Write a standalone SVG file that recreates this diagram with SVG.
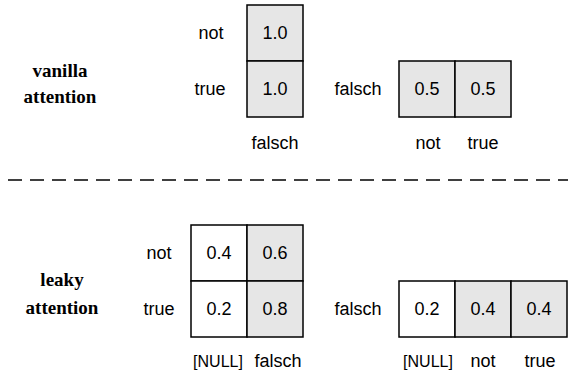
<svg xmlns="http://www.w3.org/2000/svg" width="568" height="376" viewBox="0 0 568 376">
<style>
.c{stroke:#000;stroke-width:1.5}
.g{fill:#e6e6e6}
.w{fill:#fff}
text{font-family:"Liberation Sans",Arial,sans-serif;font-size:18px;fill:#000;text-anchor:middle}
.n{font-size:16px}
.h{font-family:"Liberation Serif","Times New Roman",serif;font-weight:bold;font-size:19px}
</style>
<rect width="568" height="376" fill="#fff"/>
<g id="vanilla-label">
<text class="h" x="60" y="77">vanilla</text>
<text class="h" x="60" y="103">attention</text>
</g>
<g id="vanilla-left">
<rect class="c g" x="247" y="5" width="56" height="56"/>
<rect class="c g" x="247" y="61" width="56" height="56"/>
<text x="275" y="39">1.0</text>
<text x="275" y="95">1.0</text>
<text x="211" y="39">not</text>
<text x="210" y="95">true</text>
<text x="275" y="149">falsch</text>
</g>
<g id="vanilla-right">
<rect class="c g" x="399" y="61" width="56" height="56"/>
<rect class="c g" x="455" y="61" width="56" height="56"/>
<text x="427" y="95">0.5</text>
<text x="483" y="95">0.5</text>
<text x="358" y="95">falsch</text>
<text x="428" y="149">not</text>
<text x="483" y="149">true</text>
</g>
<g id="connectors">
<line x1="8" y1="180" x2="568" y2="180" stroke="#000" stroke-width="1.5" stroke-dasharray="14 8"/>
</g>
<g id="leaky-label">
<text class="h" x="62" y="286">leaky</text>
<text class="h" x="62" y="314">attention</text>
</g>
<g id="leaky-left">
<rect class="c w" x="191" y="225" width="56" height="56"/>
<rect class="c g" x="247" y="225" width="56" height="56"/>
<rect class="c w" x="191" y="281" width="56" height="56"/>
<rect class="c g" x="247" y="281" width="56" height="56"/>
<text x="219" y="259">0.4</text>
<text x="275" y="259">0.6</text>
<text x="219" y="315">0.2</text>
<text x="275" y="315">0.8</text>
<text x="159" y="259">not</text>
<text x="159" y="315">true</text>
<text class="n" x="218" y="367">[NULL]</text>
<text x="278" y="367">falsch</text>
</g>
<g id="leaky-right">
<rect class="c w" x="399" y="281" width="56" height="56"/>
<rect class="c g" x="455" y="281" width="56" height="56"/>
<rect class="c g" x="511" y="281" width="56" height="56"/>
<text x="427" y="315">0.2</text>
<text x="483" y="315">0.4</text>
<text x="539" y="315">0.4</text>
<text x="358" y="315">falsch</text>
<text class="n" x="428" y="367">[NULL]</text>
<text x="483" y="367">not</text>
<text x="540" y="367">true</text>
</g>
</svg>
